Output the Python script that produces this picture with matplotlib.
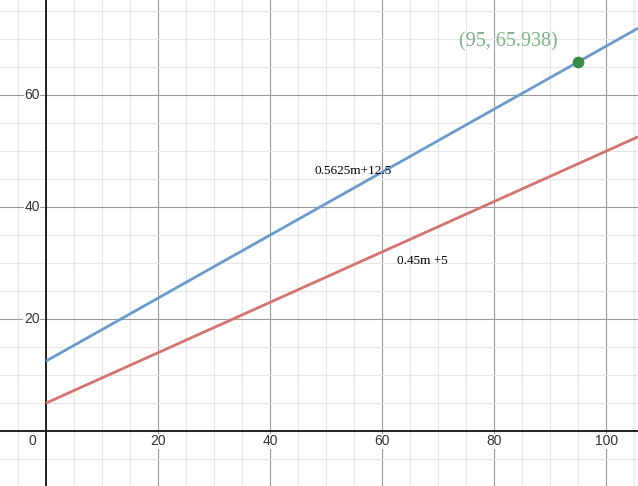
import matplotlib.pyplot as plt
import numpy as np

# Datos de las rectas (estilo Desmos)
pendientes = [0.5625, 0.45]
intercepts = [12.5, 5]
etiquetas = ["0.5625m+12.5", "0.45m +5"]
colores = ["#6a9bcc", "#d4736f"]
pos_etiquetas = [(48.0, 46.4), (62.7, 30.4)]

punto_x = 95
punto_y = 65.938

ticks_x = [0, 20, 40, 60, 80, 100]
ticks_y = [20, 40, 60]

xmin, xmax = -8.2, 105.7
ymin, ymax = -9.8, 77.0

fig = plt.figure(figsize=(6.38, 4.86), dpi=100)
ax = fig.add_axes([0, 0, 1, 1])
ax.set_xlim(xmin, xmax)
ax.set_ylim(ymin, ymax)
ax.axis('off')

# Rejilla menor y mayor
for v in np.arange(-5, xmax, 5):
    c = "#9a9a9a" if v % 20 == 0 else "#e6e6e6"
    ax.axvline(v, color=c, lw=0.8, zorder=0)
for v in np.arange(-5, ymax, 5):
    c = "#9a9a9a" if v % 20 == 0 else "#e6e6e6"
    ax.axhline(v, color=c, lw=0.8, zorder=0)

# Ejes
ax.axhline(0, color="#222222", lw=1.4, zorder=1)
ax.axvline(0, color="#222222", lw=1.4, zorder=1)

# Etiquetas de ejes
for t in ticks_x:
    if t == 0:
        ax.text(-1.8, -1.8, "0", ha="right", va="center", fontsize=10,
                color="#333333", family="Liberation Sans")
    else:
        ax.text(t, -1.8, str(t), ha="center", va="center", fontsize=10,
                color="#333333", family="Liberation Sans",
                bbox=dict(facecolor="white", edgecolor="none", pad=0.5))
for t in ticks_y:
    ax.text(-1.1, t, str(t), ha="right", va="center", fontsize=10,
            color="#333333", family="Liberation Sans",
            bbox=dict(facecolor="white", edgecolor="none", pad=0.5))

# Rectas (desde m=0)
m = np.array([0, xmax])
for a, b, col, lab, (lx, ly) in zip(pendientes, intercepts, colores, etiquetas, pos_etiquetas):
    ax.plot(m, a * m + b, color=col, lw=2, zorder=3, solid_capstyle="butt")
    ax.text(lx, ly, lab, ha="left", va="center", fontsize=9.5,
            family="Liberation Serif", color="black", zorder=4)

# Punto
ax.scatter([punto_x], [punto_y], s=55, color="#388c46", zorder=5)
ax.text(82.6, 69.6, f"({punto_x}, {punto_y})", ha="center", va="center",
        fontsize=14.5, family="Liberation Serif", color="#7ab383", zorder=5)

fig.savefig("out.png", dpi=100)
